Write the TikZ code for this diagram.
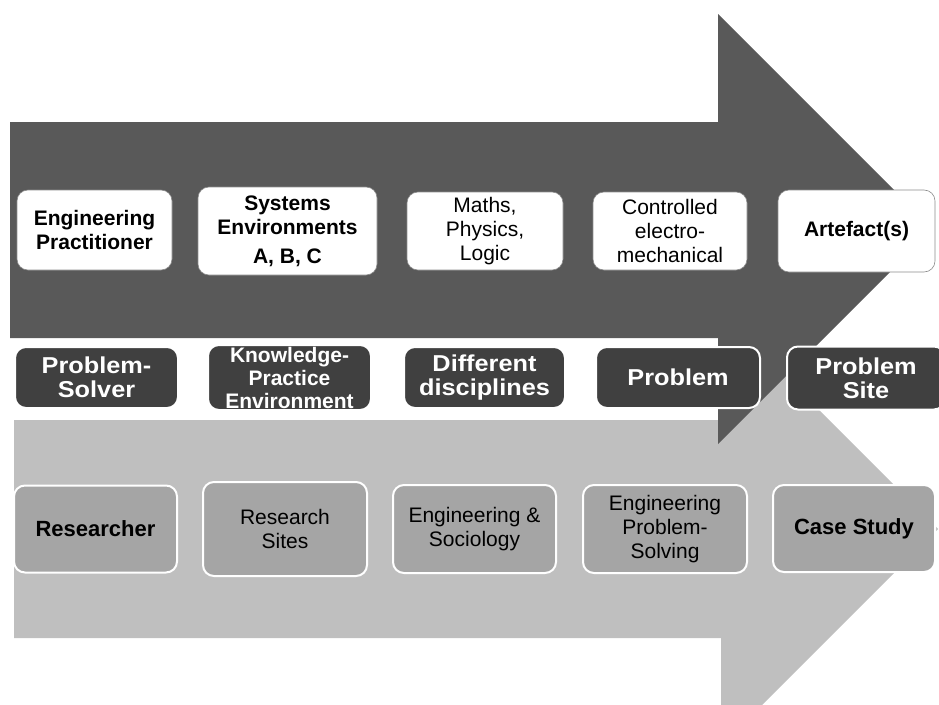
\documentclass[tikz,border=0pt]{standalone}
\usepackage{fontspec}
\setmainfont{Liberation Sans}
\newfontfamily\widesans[FakeStretch=1.1]{Liberation Sans}
\definecolor{arrowdark}{HTML}{595959}
\definecolor{arrowlight}{HTML}{BFBFBF}
\definecolor{boxdark}{HTML}{404040}
\definecolor{boxmid}{HTML}{A5A5A5}

\begin{document}
\begin{tikzpicture}[x=1pt, y=-1pt,
  box/.style={rectangle, rounded corners=11pt, align=center, inner sep=0pt},
  topbox/.style={box, fill=white, draw=black!45, line width=0.6pt, text=black, font=\fontsize{21}{24}\selectfont},
  midbox/.style={box, fill=boxdark, draw=white, line width=2pt, text=white, font=\widesans\fontsize{23}{24}\selectfont\bfseries},
  lowbox/.style={box, fill=boxmid, draw=white, line width=2pt, text=black, font=\fontsize{21}{24}\selectfont}]
\clip (0,0) rectangle (939,704);

% Draw the light arrow (behind)
\fill[arrowlight] (14,420) -- (721,420) -- (721,312) -- (938,529) -- (721,746) -- (721,638) -- (14,638) -- cycle;

% Draw the dark arrow (on top)
\fill[arrowdark] (10,122) -- (718,122) -- (718,14) -- (933,229) -- (718,444) -- (718,338) -- (10,338) -- cycle;

% Top row, on the dark arrow
\node[topbox, minimum width=155, minimum height=80] (prac) at (94.5,230) {\bfseries Engineering\\\bfseries Practitioner};
\node[topbox, minimum width=179, minimum height=88] (sysenv) at (287.5,231) {\bfseries Systems\\\bfseries Environments\\[5pt]\bfseries A, B, C};
\node[topbox, minimum width=156, minimum height=78] (maths) at (485,231) {Maths,\\Physics,\\Logic};
\node[topbox, minimum width=154, minimum height=78] (control) at (670,231) {Controlled\\electro-\\mechanical};
\node[topbox, minimum width=157, minimum height=82] (artefact) at (856.5,231) {\bfseries Artefact(s)};

% Middle row, between the arrows
\node[midbox, minimum width=163, minimum height=61] (solver) at (96.5,377.5) {Problem-\\Solver};
\node[midbox, minimum width=163, minimum height=65, font=\fontsize{21}{23}\selectfont\bfseries] (knowprac) at (289.5,377.5) {Knowledge-\\Practice\\Environment};
\node[midbox, minimum width=161, minimum height=61] (discip) at (484.5,377.5) {Different\\disciplines};
\node[midbox, minimum width=164, minimum height=61] (problem) at (678,377.5) {Problem};
\node[midbox, minimum width=158, minimum height=63] (probsite) at (866,378) {Problem\\Site};

% Bottom row, on the light arrow
\node[lowbox, minimum width=163, minimum height=87, font=\fontsize{22}{24}\selectfont\bfseries] (researcher) at (95.5,529) {Researcher};
\node[lowbox, minimum width=164, minimum height=94] (ressites) at (285,529) {Research\\Sites};
\node[lowbox, minimum width=163, minimum height=88] (engsoc) at (474.5,529) {Engineering \&\\Sociology};
\node[lowbox, minimum width=164, minimum height=88] (engps) at (665,529) {Engineering\\Problem-\\Solving};
\node[lowbox, minimum width=162, minimum height=87, font=\fontsize{22}{24}\selectfont\bfseries] (casestudy) at (854,528.5) {Case Study};
\end{tikzpicture}
\end{document}
